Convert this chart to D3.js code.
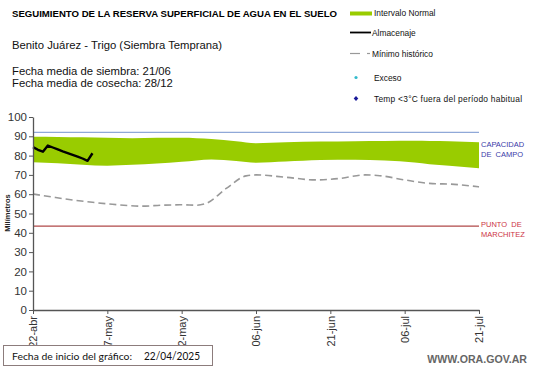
<!DOCTYPE html>
<html><head><meta charset="utf-8">
<script src="https://cdn.jsdelivr.net/npm/d3@7"></script>
<style>
body{margin:0;background:#fff;}
svg{display:block;font-family:"Liberation Sans",Arial,sans-serif;}
</style></head>
<body><svg id="c" width="541" height="368"></svg>
<script>
const startDate = "2025-04-22";
const tickDays = [0, 15, 30, 45, 60, 75, 90];
const tickLabels = ["22-abr","07-may","22-may","06-jun","21-jun","06-jul","21-jul"];
const yTicks = [0,10,20,30,40,50,60,70,80,90,100];

const bandDay    = [0,   5,   10,  15,  20,  25,  30,  36,  41,  45,  51,  58,  65,  71,  77,  80,  84,  90];
const bandTop    = [89.8,89.7,89.5,89.2,89.0,89.2,89.3,88.6,87.4,86.4,86.9,87.3,87.5,87.6,87.7,87.6,87.5,86.9];
const bandBottom = [76.5,76.0,75.3,74.8,75.3,75.9,76.8,78.0,77.2,76.3,76.9,77.7,77.8,77.4,76.4,75.5,74.8,73.4];

const storeDay = [0,   1,   2,   3,   4,   5,   6,   7,   8,   9,   10,  11,  12];
const storeVal = [84.4,83.0,82.0,85.2,84.2,83.2,82.2,81.3,80.4,79.5,78.5,77.3,81.2];

const minDay = [0,   4,   8,   12,  16,  22,  26,  30,  33,  35,  39,  43,  45,  51,  57,  62,  67,  70,  75,  80,  85,  90];
const minVal = [60.1,58.5,57.0,55.8,54.8,53.8,54.3,54.5,54.3,55.3,63.0,69.5,70.0,68.8,67.4,68.2,70.0,69.6,67.4,65.6,65.1,63.8];

const capacidad = 92;
const marchitez = 43.5;

const svg = d3.select("#c");
const t0 = d3.timeParse("%Y-%m-%d")(startDate);
const dayDate = d => d3.timeDay.offset(t0, d);

const x = d3.scaleTime().domain([dayDate(0), dayDate(90)]).range([33, 479]);
const y = d3.scaleLinear().domain([0, 100]).range([310, 117]);

// band
const area = d3.area().x((d,i)=>x(dayDate(bandDay[i]))).y0((d,i)=>y(bandBottom[i])).y1((d,i)=>y(bandTop[i])).curve(d3.curveMonotoneX);
svg.append("path").attr("d", area(bandDay)).attr("fill", "#99cc00");

// reference lines
svg.append("line").attr("x1", x(dayDate(0))).attr("x2", x(dayDate(90))).attr("y1", y(capacidad)).attr("y2", y(capacidad)).attr("stroke", "#8fa8d8").attr("stroke-width", 1.2);
svg.append("line").attr("x1", x(dayDate(0))).attr("x2", x(dayDate(90))).attr("y1", y(marchitez)).attr("y2", y(marchitez)).attr("stroke", "#b04848").attr("stroke-width", 1.2);

// minimum
const minLine = d3.line().x((d,i)=>x(dayDate(minDay[i]))).y((d,i)=>y(minVal[i])).curve(d3.curveMonotoneX);
svg.append("path").attr("d", minLine(minDay)).attr("fill","none").attr("stroke","#999").attr("stroke-width",1.6).attr("stroke-dasharray","7,4");

// almacenaje
const stLine = d3.line().x((d,i)=>x(dayDate(storeDay[i]))).y((d,i)=>y(storeVal[i]));
svg.append("path").attr("d", stLine(storeDay)).attr("fill","none").attr("stroke","#000").attr("stroke-width",2.4).attr("stroke-linejoin","round");

// axes
const yAxis = d3.axisLeft(y).tickValues(yTicks).tickSize(4).tickSizeOuter(0);
const gy = svg.append("g").attr("transform","translate(33,0)").call(yAxis);
gy.select(".domain").attr("stroke","#555").attr("stroke-width",1.3);
gy.selectAll(".tick line").attr("stroke","#555");
gy.selectAll(".tick text").attr("font-size", 11.5).attr("fill","#333").attr("x",-6).attr("font-family","Liberation Sans, Arial, sans-serif");

const xAxis = d3.axisBottom(x).tickValues(tickDays.map(dayDate)).tickFormat((d,i)=>tickLabels[i]).tickSize(4).tickSizeOuter(0);
const gx = svg.append("g").attr("transform","translate(0,310)").call(xAxis);
gx.select(".domain").attr("stroke","#555").attr("stroke-width",1.3);
gx.selectAll(".tick line").attr("stroke","#555");
gx.selectAll(".tick text").attr("font-size", 11).attr("fill","#333").attr("font-family","Liberation Sans, Arial, sans-serif")
  .attr("transform","rotate(-90)").attr("text-anchor","end").attr("x",-6).attr("y",0).attr("dy","0.35em");

svg.append("text").attr("transform","translate(10,213) rotate(-90)").attr("text-anchor","middle")
  .attr("font-size",7.5).attr("font-weight","bold").attr("fill","#222").text("Milímetros");

// right labels
svg.append("text").attr("x",481).attr("y",147).attr("font-size",7.5).attr("fill","#3a3aa8").text("CAPACIDAD");
svg.append("text").attr("x",481).attr("y",157).attr("font-size",7.5).attr("fill","#3a3aa8").attr("xml:space","preserve").text("DE  CAMPO");
svg.append("text").attr("x",481).attr("y",227).attr("font-size",7.5).attr("fill","#cc3344").attr("xml:space","preserve").text("PUNTO  DE");
svg.append("text").attr("x",481).attr("y",237).attr("font-size",7.5).attr("fill","#cc3344").text("MARCHITEZ");

// titles
svg.append("text").attr("x",12).attr("y",17).attr("font-size",9.6).attr("font-weight","bold").attr("fill","#000")
  .text("SEGUIMIENTO DE LA RESERVA  SUPERFICIAL DE AGUA EN EL SUELO");
svg.append("text").attr("x",12).attr("y",49).attr("font-size",11.3).attr("fill","#111").text("Benito Juárez - Trigo (Siembra Temprana)");
svg.append("text").attr("x",12).attr("y",75).attr("font-size",11.3).attr("fill","#111").text("Fecha media de siembra: 21/06");
svg.append("text").attr("x",12).attr("y",87).attr("font-size",11.3).attr("fill","#111").text("Fecha media de cosecha: 28/12");

// legend
const lg = svg.append("g").attr("font-size",8.4).attr("fill","#111");
lg.append("rect").attr("x",350).attr("y",11.5).attr("width",22).attr("height",4).attr("fill","#99cc00");
lg.append("text").attr("x",374).attr("y",16).text("Intervalo Normal");
lg.append("line").attr("x1",350).attr("x2",371).attr("y1",32.5).attr("y2",32.5).attr("stroke","#000").attr("stroke-width",1.8);
lg.append("text").attr("x",372).attr("y",36).text("Almacenaje");
lg.append("line").attr("x1",350).attr("x2",360).attr("y1",53.5).attr("y2",53.5).attr("stroke","#999").attr("stroke-width",1.2);
lg.append("line").attr("x1",367).attr("x2",370).attr("y1",53.5).attr("y2",53.5).attr("stroke","#999").attr("stroke-width",1.2);
lg.append("text").attr("x",372).attr("y",57).text("Mínimo histórico");
lg.append("circle").attr("cx",356).attr("cy",77.5).attr("r",1.6).attr("fill","#33bbcc");
lg.append("text").attr("x",374).attr("y",80.5).text("Exceso");
lg.append("path").attr("d","M356,96 L358.3,98.5 L356,101 L353.7,98.5 Z").attr("fill","#1a1a99");
lg.append("text").attr("x",374).attr("y",101.5).attr("textLength",148).attr("lengthAdjust","spacing").text("Temp <3°C fuera del período habitual");

// bottom box
svg.append("rect").attr("x",3.5).attr("y",345.5).attr("width",209).attr("height",20).attr("fill","#fff").attr("stroke","#8c7c7c").attr("stroke-width",1);
svg.append("text").attr("x",12).attr("y",360).attr("font-size",10.2).attr("font-family","Lato, sans-serif").attr("fill","#111")
  .attr("textLength",120).attr("lengthAdjust","spacingAndGlyphs").text("Fecha de inicio del gráfico:");
svg.append("text").attr("x",144).attr("y",360).attr("font-size",11).attr("font-family","Lato, sans-serif").attr("fill","#111")
  .attr("textLength",56).attr("lengthAdjust","spacingAndGlyphs").text("22/04/2025");

svg.append("text").attr("x",527).attr("y",363).attr("text-anchor","end").attr("font-size",10.6).attr("font-weight","bold").attr("fill","#666").text("WWW.ORA.GOV.AR");
</script></body></html>
